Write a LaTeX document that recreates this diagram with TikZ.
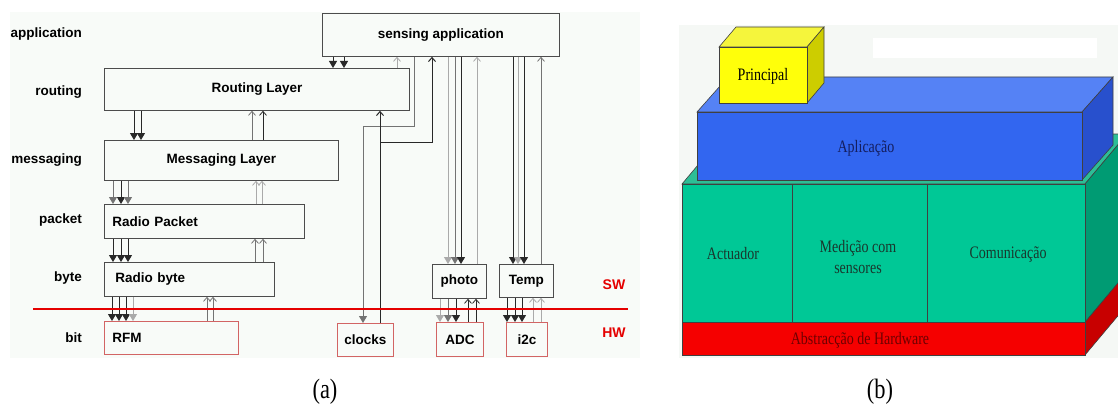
\documentclass[tikz,border=0pt]{standalone}
\usepackage{fontspec}
\setmainfont{Liberation Serif}
\setsansfont{Liberation Sans}
\newfontfamily\blkfont{Liberation Serif}[FakeStretch=0.8]
\usetikzlibrary{arrows.meta}
\definecolor{panel}{RGB}{248,251,248}
\definecolor{panelb}{RGB}{245,248,245}
\definecolor{hwred}{RGB}{210,100,100}
\definecolor{dkline}{RGB}{40,40,40}
\definecolor{mdline}{RGB}{115,115,115}
\definecolor{ltline}{RGB}{170,170,170}
\colorlet{swline}{red!90!black}
\definecolor{pcFront}{RGB}{255,255,10}
\definecolor{pcTop}{RGB}{245,245,60}
\definecolor{pcSide}{RGB}{205,205,0}
\definecolor{apFront}{RGB}{50,102,240}
\definecolor{apTop}{RGB}{85,130,245}
\definecolor{apSide}{RGB}{40,80,205}
\definecolor{gnFront}{RGB}{0,200,150}
\definecolor{gnTop}{RGB}{45,190,150}
\definecolor{gnSide}{RGB}{0,155,115}
\definecolor{hwFront}{RGB}{245,0,0}
\definecolor{hwSide}{RGB}{200,0,0}
\tikzset{
  lay/box/.style={draw=black!70, fill=panel, line width=0.8pt, anchor=north west,
    inner sep=0pt, font=\sffamily\bfseries\fontsize{13.5}{15}\selectfont},
  lay/hw/.style={lay/box, draw=hwred},
  lay/tag/.style={anchor=east, inner sep=0pt, font=\sffamily\bfseries\fontsize{13.5}{15}\selectfont},
  lay/dn/.style={dkline, line width=1pt, -{Triangle[length=7pt,width=8pt]}},
  lay/up/.style={mdline, line width=0.8pt, -{Straight Barb[length=4pt,width=7pt]}},
  blk/txt/.style={inner sep=0pt, align=center, font=\blkfont\fontsize{17.5}{21}\selectfont},
}

\begin{document}
\begin{tikzpicture}[x=1pt, y=-1pt]
  \useasboundingbox (0,0) rectangle (1118,417);
  \fill[panel] (10,12) rectangle (640,358);

  % (a) layers
  \node[lay/box, minimum width=237pt, minimum height=43pt] (sense) at (322,13) {sensing application};
  \node[lay/box, minimum width=305pt, minimum height=42pt] (rout) at (104,68) {Routing Layer};
  \node[lay/box, minimum width=234pt, minimum height=40pt] (msg) at (104,140) {Messaging Layer};
  \node[lay/box, minimum width=200pt, minimum height=34pt, inner xsep=8pt, text width=184pt, align=left] (pkt) at (104,204) {Radio Packet};
  \node[lay/box, minimum width=170pt, minimum height=34pt, inner xsep=11pt, text width=148pt, align=left] (byte) at (104,262) {Radio byte};
  \node[lay/box, minimum width=54pt, minimum height=34pt] (photo) at (432,264) {photo};
  \node[lay/box, minimum width=54pt, minimum height=33pt] (temp) at (499,264) {Temp};
  \node[lay/hw, minimum width=134pt, minimum height=33pt, inner xsep=8pt, text width=118pt, align=left] (rfm) at (104,321) {RFM};
  \node[lay/hw, minimum width=56pt, minimum height=33pt] (clk) at (337,323) {clocks};
  \node[lay/hw, minimum width=47pt, minimum height=34pt] (adc) at (436,322) {ADC};
  \node[lay/hw, minimum width=41pt, minimum height=34pt] (iic) at (506,322) {i2c};

  \node[lay/tag] (tApp) at (82,34) {application};
  \node[lay/tag] (tRout) at (82,92) {routing};
  \node[lay/tag] (tMsg) at (82,160) {messaging};
  \node[lay/tag] (tPkt) at (82,220) {packet};
  \node[lay/tag] (tByte) at (82,278) {byte};
  \node[lay/tag] (tBit) at (82,338) {bit};

  % down / up links between layers
  \foreach \x in {333,344} \draw[lay/dn] (\x,0 |- sense.south) -- (\x,0 |- rout.north);
  \draw[lay/up, ltline] (397,0 |- rout.north) -- (397,0 |- sense.south);
  \foreach \x in {134,141} \draw[lay/dn] (\x,0 |- rout.south) -- (\x,0 |- msg.north);
  \foreach \x/\c in {252/mdline,263/dkline} \draw[lay/up, \c] (\x,0 |- msg.north) -- (\x,0 |- rout.south);
  \foreach \x/\c in {113/mdline,121/dkline,128/mdline} \draw[lay/dn, \c] (\x,0 |- msg.south) -- (\x,0 |- pkt.north);
  \foreach \x in {256,262} \draw[lay/up, ltline] (\x,0 |- pkt.north) -- (\x,0 |- msg.south);
  \foreach \x in {113,121,128} \draw[lay/dn] (\x,0 |- pkt.south) -- (\x,0 |- byte.north);
  \foreach \x in {255,263} \draw[lay/up] (\x,0 |- byte.north) -- (\x,0 |- pkt.south);
  \foreach \x/\c in {112/dkline,119/dkline,126/dkline,133/ltline} \draw[lay/dn, \c] (\x,0 |- byte.south) -- (\x,0 |- rfm.north);
  \foreach \x in {207,213} \draw[lay/up] (\x,0 |- rfm.north) -- (\x,0 |- byte.south);

  % clocks
  \draw[lay/dn, mdline, line width=0.9pt] (414,0 |- sense.south) |- (363,126) -- (363,0 |- clk.north);
  \draw[lay/up, dkline, line width=1pt] (380,0 |- clk.north) -- (380,0 |- rout.south);
  \coordinate (clkfork) at (380,142);
  \draw[lay/up, dkline, line width=1pt] (clkfork) -| (432,0 |- sense.south);

  % sensors
  \foreach \x/\c in {448/ltline,455/mdline,461/dkline} \draw[lay/dn, \c] (\x,0 |- sense.south) -- (\x,0 |- photo.north);
  \draw[lay/up, ltline] (477,0 |- photo.north) -- (477,0 |- sense.south);
  \foreach \x/\c in {513/dkline,518/ltline,524/dkline} \draw[lay/dn, \c] (\x,0 |- sense.south) -- (\x,0 |- temp.north);
  \draw[lay/up] (541,0 |- temp.north) -- (541,0 |- sense.south);
  \foreach \x/\c in {440/ltline,448/mdline,456/dkline} \draw[lay/dn, \c] (\x,0 |- photo.south) -- (\x,0 |- adc.north);
  \foreach \x in {468,476} \draw[lay/up, dkline] (\x,0 |- adc.north) -- (\x,0 |- photo.south);
  \foreach \x in {507,515,522} \draw[lay/dn] (\x,0 |- temp.south) -- (\x,0 |- iic.north);
  \foreach \x in {533,541} \draw[lay/up, ltline] (\x,0 |- iic.north) -- (\x,0 |- temp.south);

  % sw / hw border
  \draw[swline, line width=2pt] (33,309) -- (628,309);
  \node[text=swline, font=\sffamily\bfseries\fontsize{14}{16}\selectfont] (sw) at (614,285) {SW};
  \node[text=swline, font=\sffamily\bfseries\fontsize{14}{16}\selectfont] (hw) at (614,333) {HW};

  % (b) blocks
  \fill[panelb] (679,25) rectangle (1118,358);
  \fill[white] (873,38) rectangle (1097,58);
  \begin{scope}[draw=black!75, line width=0.6pt]
    \clip (679,0) rectangle (1118,417);
    \filldraw[fill=hwSide] (1085,322) -- ++(42,-50) -- ++(0,33) -- (1085,355) -- cycle;
    \filldraw[fill=hwFront] (682,322) rectangle (1085,355);
    \filldraw[fill=gnTop] (682,184) -- ++(42,-50) -- ++(403,0) -- (1085,184) -- cycle;
    \filldraw[fill=gnSide] (1085,184) -- ++(42,-50) -- ++(0,138) -- (1085,322) -- cycle;
    \filldraw[fill=gnFront] (682,184) rectangle (1085,322);
    \draw (792,184) -- (792,322) (927,184) -- (927,322);
    \filldraw[fill=apTop] (697,112) -- (728,77) -- (1113,77) -- (1082,112) -- cycle;
    \filldraw[fill=apSide] (1082,112) -- (1113,77) -- (1113,145) -- (1082,180) -- cycle;
    \filldraw[fill=apFront] (697,112) rectangle (1082,180);
    \filldraw[fill=pcTop] (719,47) -- (736,27) -- (824,27) -- (807,47) -- cycle;
    \filldraw[fill=pcSide] (807,47) -- (824,27) -- (824,83) -- (807,103) -- cycle;
    \filldraw[fill=pcFront] (719,47) rectangle (807,103);
  \end{scope}
  \node[blk/txt] (princ) at (763,76) {Principal};
  \node[blk/txt, text={rgb,255:red,20;green,30;blue,95}] (aplic) at (866,148) {Aplicação};
  \node[blk/txt, text={rgb,255:red,25;green,55;blue,45}] (act) at (733,254) {Actuador};
  \node[blk/txt, text={rgb,255:red,25;green,55;blue,45}] (med) at (858,257) {Medição com\\sensores};
  \node[blk/txt, text={rgb,255:red,25;green,55;blue,45}] (com) at (1008,254) {Comunicação};
  \node[blk/txt, text={rgb,255:red,110;green,0;blue,0}] (abs) at (860,340) {Abstracção de Hardware};

  % captions
  \node[font=\blkfont\fontsize{28}{30}\selectfont] (capa) at (325,392) {(a)};
  \node[font=\blkfont\fontsize{28}{30}\selectfont] (capb) at (880,392) {(b)};
\end{tikzpicture}
\end{document}
